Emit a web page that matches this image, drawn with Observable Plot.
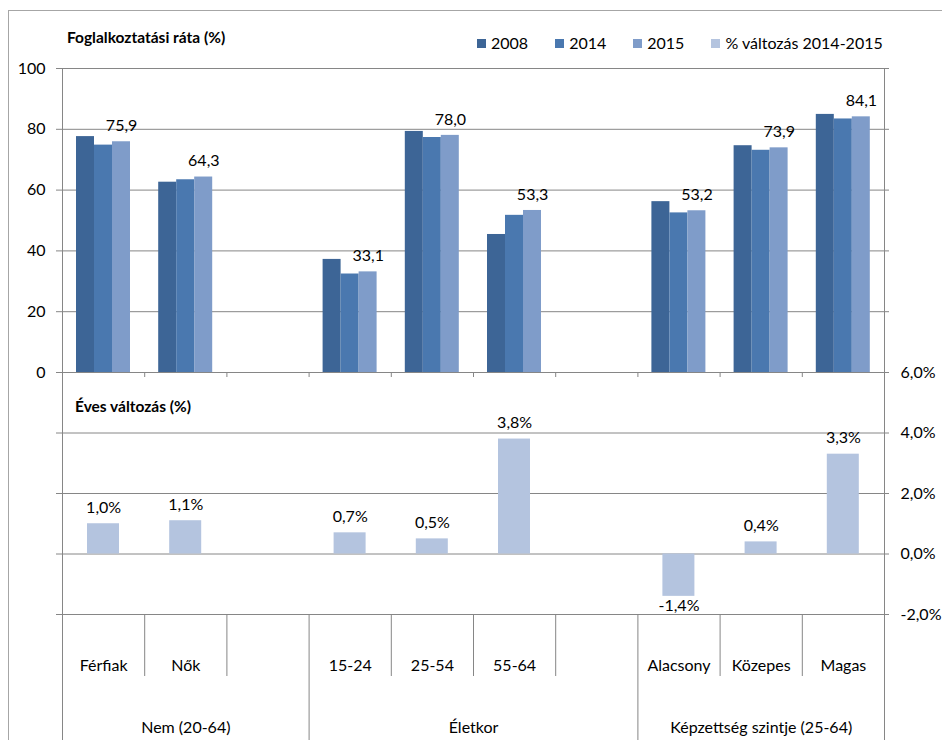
<!DOCTYPE html>
<html><head><meta charset="utf-8">
<script src="https://cdn.jsdelivr.net/npm/d3@7"></script>
<script src="https://cdn.jsdelivr.net/npm/@observablehq/plot@0.6"></script>
<style>
body{margin:0;background:#fff;font-family:Lato,"Open Sans",sans-serif;color:#000;}
#chart{position:relative;width:942px;height:740px;overflow:hidden;background:#fff;}
#chart svg{position:absolute;left:0;top:0;}
.frame{position:absolute;left:8px;top:10px;width:940px;height:740px;border-left:1px solid #a6a6a6;border-top:1px solid #a6a6a6;}
.title{position:absolute;font-weight:bold;font-size:15.5px;line-height:15px;white-space:nowrap;}
.legend{position:absolute;left:477px;top:35px;display:flex;gap:27px;font-size:16px;line-height:16px;white-space:nowrap;}
.legend .item{display:flex;align-items:center;}
.legend .sw{display:inline-block;width:9px;height:9px;margin-right:5px;}
</style></head>
<body><div id="chart"><div class="frame"></div></div>
<script>
// ---- data ----
const categories = ["Férfiak","Nők","","15-24","25-54","55-64"," ","Alacsony","Közepes","Magas"];
const groups = ["Nem (20-64)","Életkor","Képzettség szintje (25-64)"];
const groupStart = [0,3,7];
const groupEnd = [3,7,10];
const years = ["2008","2014","2015"];
const rate2008 = [77.6,62.6,null,37.2,79.3,45.4,null,56.2,74.6,84.9];
const rate2014 = [74.8,63.4,null,32.4,77.3,51.7,null,52.5,73.1,83.4];
const rate2015 = [75.9,64.3,null,33.1,78.0,53.3,null,53.2,73.9,84.1];
const change = [1.0,1.1,null,0.7,0.5,3.8,null,-1.4,0.4,3.3];
const rateTicks = [0,20,40,60,80,100];
const changeTicks = [-2,0,2,4,6];
const seriesNames = ["2008","2014","2015","% változás 2014-2015"];
const colors = ["#3D6596","#4A78AF","#7F9CC9","#B4C4DF"];
const title1 = "Foglalkoztatási ráta (%)";
const title2 = "Éves változás (%)";

// ---- helpers ----
const N = categories.length;
const loc = d3.formatLocale({decimal:",", thousands:" ", grouping:[3], currency:["",""], minus:"-"});
const f1 = loc.format(".1f");
const pct = d => f1(d) + "%";
const grid = "#868686";
const FS = 16;
const rateSeries = [rate2008, rate2014, rate2015];
const rateRows = rateSeries.map(s => s.map((v,i) => ({i, value:v})).filter(d => d.value != null));
const changeRows = change.map((v,i) => ({i, value:v})).filter(d => d.value != null);
const svgStyle = `background:transparent;overflow:visible;font-family:Lato,'Open Sans',sans-serif;font-size:${FS}px;color:#000;`;
const W = 942, H = 740, ML = 62, MR = 58;
const cMin = changeTicks[0], cMax = changeTicks[changeTicks.length-1];

// bar geometry within a slot (px insets)
const barInsL = [14, 32, 50], barInsR = [50.2, 32.2, 14.2];

const topPlot = Plot.plot({
  width: W, height: H,
  marginLeft: ML, marginRight: MR, marginTop: 68, marginBottom: 368,
  style: svgStyle,
  x: {domain: [0, N], axis: null},
  y: {domain: [0, 100], ticks: rateTicks, tickSize: 0, tickPadding: 17, label: null, tickFormat: d => String(d)},
  marks: [
    Plot.ruleY(rateTicks, {y: d => d, stroke: grid, insetLeft: -6, insetRight: -5}),
    ...rateRows.map((rows, k) => Plot.rectY(rows, {
      x1: d => d.i, x2: d => d.i + 1, y1: 0, y2: "value",
      fill: colors[k], insetLeft: barInsL[k], insetRight: barInsR[k]
    })),
    Plot.text(rateRows[2], {x: d => d.i + 0.5, y: "value", dx: 18, dy: -16, text: d => f1(d.value), fontSize: FS, fill: "#000"}),
    Plot.ruleX([0, N], {x: d => d, stroke: grid}),
    Plot.ruleX(d3.range(1, N), {x: d => d, y1: 0, y2: 0, insetBottom: -5, stroke: grid})
  ]
});

const bottomPlot = Plot.plot({
  width: W, height: H,
  marginLeft: ML, marginRight: MR, marginTop: 372, marginBottom: 126,
  style: svgStyle,
  x: {domain: [0, N], axis: null},
  y: {domain: [cMin, cMax], ticks: changeTicks, axis: "right", tickSize: 0, tickPadding: 16, label: null, tickFormat: pct},
  marks: [
    Plot.ruleY(changeTicks.slice(0, -1), {y: d => d, stroke: grid, insetLeft: -6, insetRight: -5}),
    Plot.ruleY(changeTicks.slice(-1), {y: d => d, stroke: grid, insetLeft: 0, insetRight: -5}),
    Plot.rectY(changeRows, {x1: d => d.i, x2: d => d.i + 1, y1: 0, y2: "value", fill: colors[3], insetLeft: 25, insetRight: 25.2}),
    Plot.text(changeRows.filter(d => d.value >= 0), {x: d => d.i + 0.5, y: "value", dy: -16, text: d => pct(d.value), fontSize: FS, fill: "#000"}),
    Plot.text(changeRows.filter(d => d.value < 0), {x: d => d.i + 0.5, y: "value", dy: 10, text: d => pct(d.value), fontSize: FS, fill: "#000"}),
    Plot.ruleX([0, N], {x: d => d, y1: cMax, y2: cMin, insetBottom: -126, stroke: grid}),
    Plot.ruleX(groupStart.slice(1), {x: d => d, y1: cMin, y2: cMin, insetBottom: -126, stroke: grid}),
    Plot.ruleX(d3.range(1, N).filter(b => !groupStart.includes(b)), {x: d => d, y1: cMin, y2: cMin, insetBottom: -62, stroke: grid}),
    Plot.text(categories, {x: (d, i) => i + 0.5, y: cMin, dy: 51, text: d => d, fontSize: FS, fill: "#000"}),
    Plot.text(groups, {x: (d, i) => (groupStart[i] + groupEnd[i]) / 2, y: cMin, dy: 113, text: d => d, fontSize: FS, fill: "#000"})
  ]
});

const chart = document.getElementById("chart");
chart.appendChild(topPlot);
chart.appendChild(bottomPlot);

function addTitle(text, left, topPx) {
  const t = document.createElement("div");
  t.className = "title";
  t.style.left = left + "px";
  t.style.top = topPx + "px";
  t.textContent = text;
  chart.appendChild(t);
}
addTitle(title1, 67, 30);
addTitle(title2, 75, 399);

const lg = document.createElement("div");
lg.className = "legend";
seriesNames.forEach((name, k) => {
  const it = document.createElement("div");
  it.className = "item";
  const sw = document.createElement("span");
  sw.className = "sw";
  sw.style.background = colors[k];
  it.appendChild(sw);
  it.appendChild(document.createTextNode(name));
  lg.appendChild(it);
});
chart.appendChild(lg);
</script>
</body></html>
